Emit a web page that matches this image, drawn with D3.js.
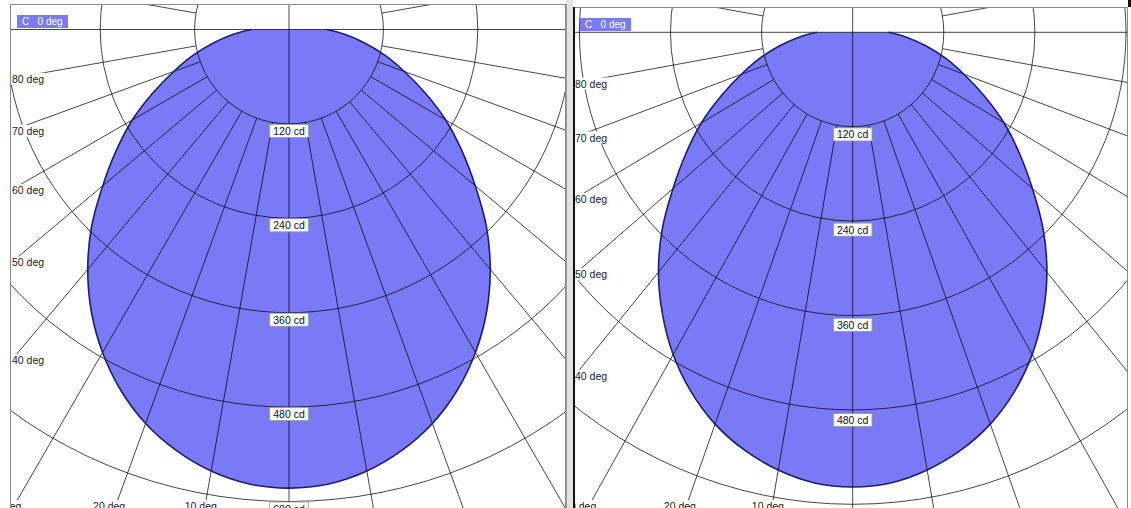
<!DOCTYPE html>
<html><head><meta charset="utf-8">
<script src="https://cdn.jsdelivr.net/npm/d3@7"></script>
<style>
body{margin:0;background:#fff;overflow:hidden;}
svg{display:block;}
text{font-family:"Liberation Sans",Arial,sans-serif;}
</style>
</head><body>
<svg id="chart" width="1131" height="508"></svg>
<script>
// ---- data ----
const gammaAngles = [0,5,10,15,20,25,30,35,40,45,50,55,60,65,70,75,80,85,90];
const intensityLeft  = [583,580,570,554,533,506,474,438,398,355,309,268,230,191,156,126,97,71,48];
const intensityRight = [578,575,565,550,530,504,473,437,398,355,309,268,230,191,156,126,97,71,47];
const ringValues = [120,240,360,480,600,720];
const ringLabels = ["120 cd","240 cd","360 cd","480 cd","600 cd","720 cd"];
const rayAngles = [10,20,30,40,50,60,70,80,100,110,120,130,140,150,160,170];
const labelAngles = [10,20,30,40,50,60,70,80];
const angleLabels = ["10 deg","20 deg","30 deg","40 deg","50 deg","60 deg","70 deg","80 deg"];
const panelTitles = ["C   0 deg","C   0 deg"];
const panelData = [intensityLeft, intensityRight];

// ---- layout ----
const panels = [
  {x0:10, y0:4, x1:566, y1:530, ox:289, oy:29.5, sx:1.0, sy:1.0, lab:1.0},
  {x0:573, y0:7, x1:1128, y1:530, ox:852.7, oy:32.3, sx:0.965, sy:1.0, lab:1.008}
];
const FILL = "#7a7af6";
const svg = d3.select("#chart");
const r = d3.scaleLinear().domain([0,600]).range([0,472]);
const rad = d => d*Math.PI/180;

// window chrome between the panels
svg.append("rect").attr("x",566).attr("y",0).attr("width",7).attr("height",508).attr("fill","#e2e2e2");
svg.append("line").attr("x1",566.5).attr("x2",566.5).attr("y1",4).attr("y2",508).attr("stroke","#9a9a9a");
svg.append("rect").attr("x",1128).attr("y",0).attr("width",3).attr("height",7).attr("fill","#111");

panels.forEach((p,pi)=>{
  const values = panelData[pi];
  const clipId = "clip"+pi;
  svg.append("clipPath").attr("id",clipId).append("rect")
    .attr("x",p.x0).attr("y",p.y0).attr("width",p.x1-p.x0).attr("height",p.y1-p.y0);
  const root = svg.append("g").attr("clip-path",`url(#${clipId})`);
  root.append("rect").attr("x",p.x0).attr("y",p.y0).attr("width",p.x1-p.x0).attr("height",p.y1-p.y0).attr("fill","#fff");
  const g = root.append("g").attr("transform",`translate(${p.ox},${p.oy}) scale(${p.sx},${p.sy})`);

  // intensity curve, symmetric about nadir
  const pts = [];
  for (let i = gammaAngles.length-1; i >= 0; i--) pts.push([Math.PI - rad(gammaAngles[i]), r(values[i])]);
  for (let i = 1; i < gammaAngles.length; i++) pts.push([Math.PI + rad(gammaAngles[i]), r(values[i])]);
  const lineR = d3.lineRadial().angle(d=>d[0]).radius(d=>d[1]).curve(d3.curveCatmullRom.alpha(0.5));
  const curve = lineR(pts);
  g.append("path").attr("d", curve + "L0,0Z").attr("fill",FILL).attr("stroke","none");

  // grid drawn over the fill
  const grid = g.append("g").attr("stroke","#000").attr("stroke-opacity",0.72).attr("fill","none")
     .attr("stroke-width",1);
  ringValues.forEach(v=>{
    grid.append("circle").attr("r",r(v)).attr("vector-effect","non-scaling-stroke");
  });
  rayAngles.forEach(a=>{
    [1,-1].forEach(s=>{
      const th = rad(a);
      grid.append("line").attr("vector-effect","non-scaling-stroke")
        .attr("x1", s*r(120)*Math.sin(th)).attr("y1", r(120)*Math.cos(th))
        .attr("x2", s*r(2000)*Math.sin(th)).attr("y2", r(2000)*Math.cos(th));
    });
  });
  grid.append("line").attr("vector-effect","non-scaling-stroke").attr("x1",0).attr("x2",0).attr("y1",-1000).attr("y2",1000);
  grid.append("line").attr("vector-effect","non-scaling-stroke").attr("x1",-1000).attr("x2",1000).attr("y1",0).attr("y2",0);

  // outline of the curve
  g.append("path").attr("d", curve).attr("fill","none").attr("stroke","#1c1c78")
    .attr("stroke-width",1.6).attr("vector-effect","non-scaling-stroke");

  // ring labels along the nadir axis
  ringValues.forEach((v,i)=>{
    const y = p.oy + r(v)*p.sy*p.lab + 7;
    const lg = root.append("g");
    const t = lg.append("text").attr("x",p.ox).attr("y",y).attr("text-anchor","middle")
      .attr("dominant-baseline","central").attr("font-size",10.5).attr("fill","#111").text(ringLabels[i]);
    const w = t.node().getComputedTextLength();
    lg.insert("rect","text").attr("x",p.ox-w/2-3.5).attr("y",y-6.5).attr("width",w+7).attr("height",13)
      .attr("fill","#fff").attr("stroke","#9a9a9a").attr("stroke-width",0.8);
  });

  // angle labels on the left side
  labelAngles.forEach((a,i)=>{
    const th = rad(a);
    const dx = Math.sin(th)*p.sx, dy = Math.cos(th)*p.sy;
    const xl = p.x0 + 2;
    const tl = (p.ox - xl)/dx;
    const yl = p.oy + tl*dy;
    const lg = root.append("g");
    let t;
    if (yl < 500) {
      t = lg.append("text").attr("x",xl).attr("y",yl+0.5).attr("dominant-baseline","central")
        .attr("font-size",10.5).attr("fill","#222").text(angleLabels[i]);
    } else {
      const tb = (506 - p.oy)/dy;
      const xb = p.ox - tb*dx;
      t = lg.append("text").attr("x",xb - 2 - a*0.22).attr("y",506).attr("text-anchor","middle").attr("dominant-baseline","central")
        .attr("font-size",10.5).attr("fill","#222").text(angleLabels[i]);
    }
    const bb = t.node().getBBox();
    lg.insert("rect","text").attr("x",bb.x-1).attr("y",bb.y).attr("width",bb.width+2).attr("height",bb.height)
      .attr("fill","#fff");
  });

  // title tag
  const tg = root.append("g");
  tg.append("rect").attr("x",p.x0+7).attr("y",p.y0+11).attr("width",51).attr("height",13).attr("fill",FILL);
  tg.append("text").attr("x",p.x0+12).attr("y",p.y0+17.5).attr("dominant-baseline","central")
    .attr("font-size",10).attr("fill","#fff").style("white-space","pre").text(panelTitles[pi]);

  // panel border
  if (pi===0) {
    svg.append("rect").attr("x",p.x0+0.5).attr("y",p.y0+0.5).attr("width",p.x1-p.x0-1).attr("height",600)
      .attr("fill","none").attr("stroke","#8a8a8a");
  } else {
    svg.append("line").attr("x1",p.x0).attr("x2",p.x1).attr("y1",p.y0+0.5).attr("y2",p.y0+0.5).attr("stroke","#8a8a8a");
    svg.append("line").attr("x1",p.x1-0.5).attr("x2",p.x1-0.5).attr("y1",p.y0).attr("y2",508).attr("stroke","#8a8a8a");
    svg.append("line").attr("x1",p.x0+1).attr("x2",p.x0+1).attr("y1",p.y0).attr("y2",508).attr("stroke","#111").attr("stroke-width",2);
  }
});
</script>
</body></html>
